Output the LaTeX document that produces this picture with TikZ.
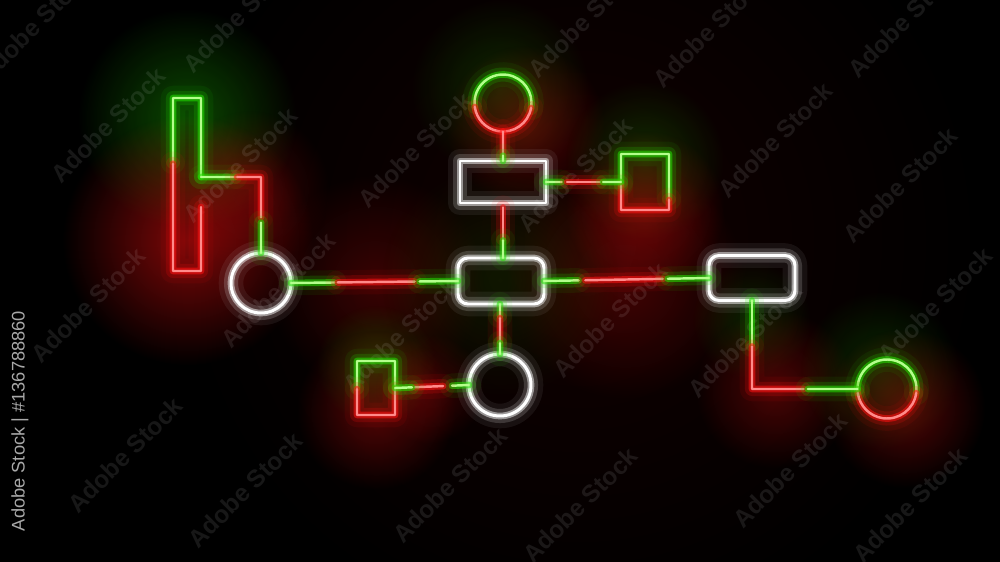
\documentclass[tikz,border=0pt]{standalone}
\usepackage{fontspec}
\setmainfont{Liberation Sans}
\usetikzlibrary{calc,fadings}
\definecolor{gcore}{HTML}{B4FF8C}
\definecolor{gglow}{HTML}{22E000}
\definecolor{rcore}{HTML}{FF8A8A}
\definecolor{rglow}{HTML}{FF1010}
\definecolor{wglow}{HTML}{E8E8E8}
\definecolor{idgray}{HTML}{A8A8A8}
\tikzfading[name=glowfade, inner color=transparent!0, outer color=transparent!100]
\newcommand{\neonseg}[5]{\draw[#1] ($(#2)!#4!(#3)$) -- ($(#2)!#5!(#3)$);}
\begin{document}
\begin{tikzpicture}[x=0.1mm,y=-0.1mm,
  shp/.style={inner sep=0pt,outer sep=0pt},
  neon/.style 2 args={draw=#1,line width=0.7pt,line cap=round,line join=round,
    preaction={draw=#2,line width=7pt,draw opacity=0.07,line cap=round,line join=round},
    preaction={draw=#2,line width=4pt,draw opacity=0.18,line cap=round,line join=round},
    preaction={draw=#2,line width=1.9pt,draw opacity=0.55,line cap=round,line join=round}},
  G/.style={neon={gcore}{gglow}},
  R/.style={neon={rcore}{rglow}},
  W/.style={neon={white}{wglow},line width=0.85pt},
  haze/.style={fill=#1,path fading=glowfade},
  wm/.style={text=white,opacity=0.09,font=\bfseries\fontsize{7}{8}\selectfont,rotate=45}
]
\fill[black] (0,0) rectangle (1000,562);
\useasboundingbox (0,0) rectangle (1000,562);

% ambient haze
\fill[haze=rglow,fill opacity=0.07] (580,240) circle (400);
\fill[haze=gglow,fill opacity=0.32] (187,118) circle (110);
\fill[haze=rglow,fill opacity=0.50] (188,240) circle (125);
\fill[haze=rglow,fill opacity=0.22] (250,190) circle (80);
\fill[haze=gglow,fill opacity=0.18] (500,88) circle (90);
\fill[haze=rglow,fill opacity=0.28] (525,125) circle (80);
\fill[haze=gglow,fill opacity=0.20] (645,160) circle (80);
\fill[haze=rglow,fill opacity=0.32] (645,210) circle (80);
\fill[haze=rglow,fill opacity=0.20] (375,283) circle (110);
\fill[haze=rglow,fill opacity=0.22] (625,280) circle (120);
\fill[haze=gglow,fill opacity=0.10] (500,280) circle (120);
\fill[haze=gglow,fill opacity=0.22] (376,365) circle (60);
\fill[haze=rglow,fill opacity=0.32] (376,410) circle (80);
\fill[haze=rglow,fill opacity=0.20] (430,389) circle (55);
\fill[haze=gglow,fill opacity=0.15] (752,320) circle (60);
\fill[haze=rglow,fill opacity=0.28] (775,389) circle (80);
\fill[haze=gglow,fill opacity=0.18] (880,370) circle (80);
\fill[haze=rglow,fill opacity=0.32] (905,408) circle (80);

% watermarks
\foreach \p in {(35,25),(108,125),(240,165),(278,290),(88,305),(125,455),(245,490),
  (415,150),(575,175),(400,335),(610,320),(450,485),(580,505),(745,340),(775,140),
  (710,30),(585,20),(900,185),(935,305),(790,470),(910,505),(905,20),(240,15)}
  \node[wm] at \p {Adobe Stock};
\node[text=idgray,rotate=90,font=\fontsize{5.2}{6}\selectfont] (idtext) at (20,421) {Adobe Stock | \#136788860};

% nodes
\node[shp,minimum width=2.8mm,minimum height=17.3mm] (trect) at (187,184.5) {};
\node[shp,circle,W,minimum size=6mm] (lcirc) at (261,283) {};
\node[shp,W,rounded corners=1mm,minimum width=8.6mm,minimum height=4.6mm] (crect) at (501,281) {};
\node[shp,circle,minimum size=5.7mm] (tcirc) at (503,103) {};
\node[shp,W,minimum width=8.6mm,minimum height=4.2mm] (trbox) at (503,182) {};
\node[shp,minimum width=4.8mm,minimum height=5.6mm] (srect) at (645,182) {};
\node[shp,W,rounded corners=1mm,minimum width=8.6mm,minimum height=4.5mm] (rrect) at (752,278) {};
\node[shp,circle,minimum size=5.9mm] (rcirc) at (887,389) {};
\node[shp,circle,W,minimum size=6.2mm] (bcirc) at (500,385) {};
\node[shp,minimum width=3.8mm,minimum height=5.4mm] (lsrect) at (376,388) {};

% coloured outlines
\draw[G] ($(trect.north west)!0.37!(trect.south west)$) -- (trect.north west) -- (trect.north east) -- ($(trect.north east)!0.457!(trect.south east)$);
\draw[R] ($(trect.north west)!0.38!(trect.south west)$) -- (trect.south west) -- (trect.south east) -- ($(trect.north east)!0.63!(trect.south east)$);
\draw[G] ($(srect.north west)!0.55!(srect.south west)$) -- (srect.north west) -- (srect.north east) -- ($(srect.north east)!0.8!(srect.south east)$);
\draw[R] ($(srect.north west)!0.57!(srect.south west)$) -- (srect.south west) -- (srect.south east) -- ($(srect.north east)!0.82!(srect.south east)$);
\draw[G] ($(lsrect.north west)!0.5!(lsrect.south west)$) -- (lsrect.north west) -- (lsrect.north east) -- ($(lsrect.north east)!0.5!(lsrect.south east)$);
\draw[R] ($(lsrect.north west)!0.52!(lsrect.south west)$) -- (lsrect.south west) -- (lsrect.south east) -- ($(lsrect.north east)!0.52!(lsrect.south east)$);
\draw[G] (tcirc.-10) arc[start angle=-10,end angle=188,radius=2.85mm];
\draw[R] (tcirc.-10) arc[start angle=-10,end angle=-172,radius=2.85mm];
\draw[G] (rcirc.-8) arc[start angle=-8,end angle=188,radius=2.95mm];
\draw[R] (rcirc.-8) arc[start angle=-8,end angle=-172,radius=2.95mm];

% connectors
\coordinate (k1) at (261,177);
\coordinate (a0) at (trect.east |- k1);
\neonseg{G}{a0}{k1}{0}{0.57}
\draw[R] ($(a0)!0.6!(k1)$) -- (k1) -- ($(k1)!0.53!(lcirc.north)$);
\neonseg{G}{k1}{lcirc.north}{0.6}{1}

\neonseg{G}{lcirc.east}{crect.west}{0}{0.26}
\neonseg{R}{lcirc.east}{crect.west}{0.28}{0.74}
\neonseg{G}{lcirc.east}{crect.west}{0.77}{1}

\neonseg{R}{tcirc.south}{trbox.north}{0}{0.8}
\neonseg{G}{tcirc.south}{trbox.north}{0.82}{1}

\neonseg{G}{trbox.east}{srect.west}{0}{0.21}
\neonseg{R}{trbox.east}{srect.west}{0.28}{0.72}
\neonseg{G}{trbox.east}{srect.west}{0.76}{1}

\coordinate (e1) at (trbox.south |- crect.north);
\neonseg{R}{trbox.south}{e1}{0.08}{0.65}
\neonseg{G}{trbox.south}{e1}{0.68}{1}

\neonseg{G}{crect.east}{rrect.west}{0}{0.21}
\neonseg{R}{crect.east}{rrect.west}{0.25}{0.72}
\neonseg{G}{crect.east}{rrect.west}{0.75}{1}

\coordinate (g1) at (crect.south -| bcirc.north);
\neonseg{G}{g1}{bcirc.north}{0}{0.24}
\neonseg{R}{g1}{bcirc.north}{0.28}{0.75}
\neonseg{G}{g1}{bcirc.north}{0.78}{1}

\neonseg{G}{bcirc.west}{lsrect.east}{0}{0.23}
\neonseg{R}{bcirc.west}{lsrect.east}{0.35}{0.73}
\neonseg{G}{bcirc.west}{lsrect.east}{0.77}{1}

\coordinate (k2) at (rrect.south |- rcirc.west);
\neonseg{G}{rrect.south}{k2}{0}{0.5}
\draw[R] ($(rrect.south)!0.52!(k2)$) -- (k2) -- ($(k2)!0.49!(rcirc.west)$);
\neonseg{G}{k2}{rcirc.west}{0.53}{1}
\end{tikzpicture}
\end{document}
